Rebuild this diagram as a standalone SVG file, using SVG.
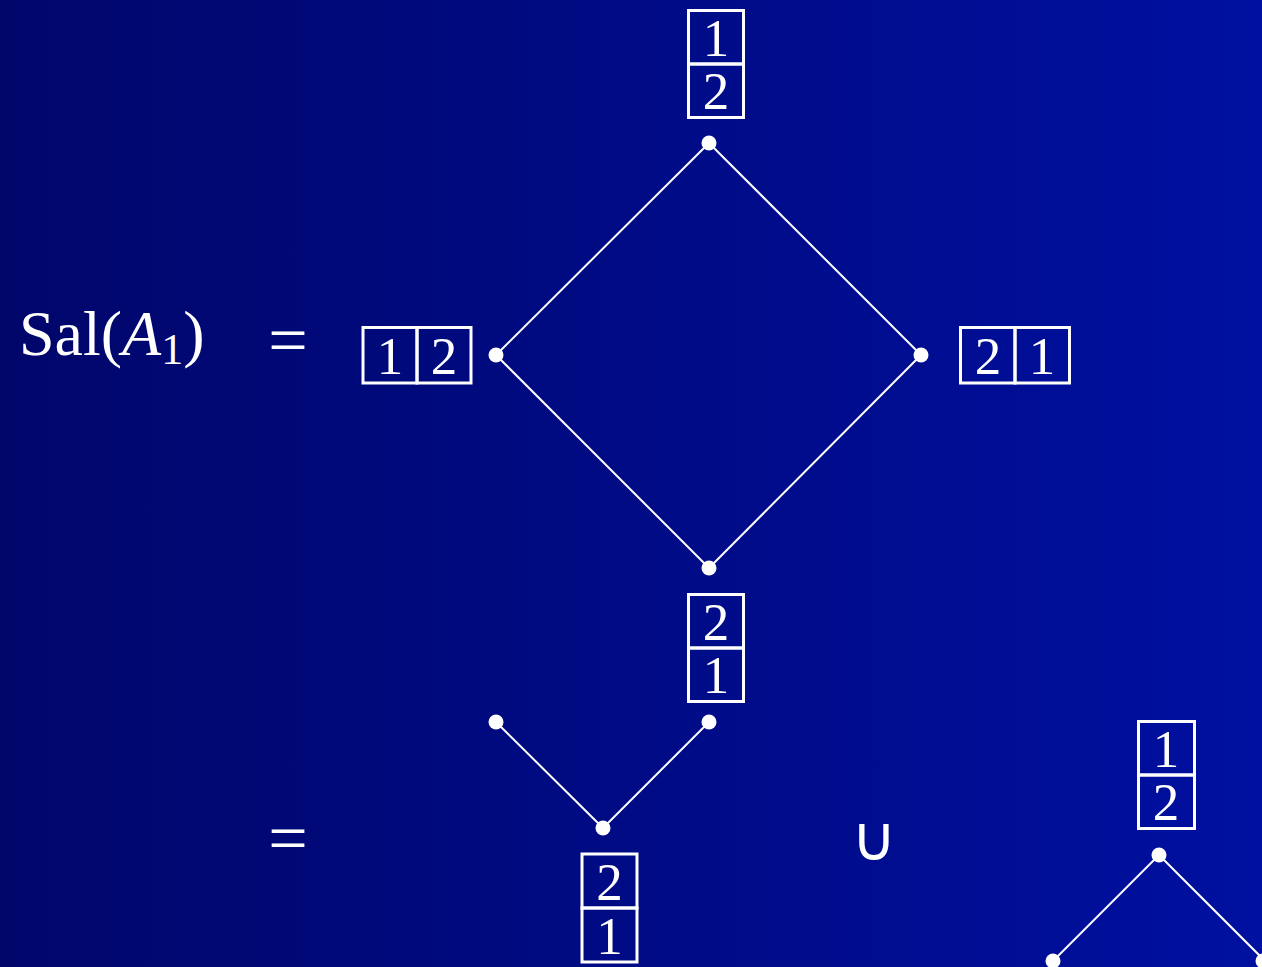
<svg xmlns="http://www.w3.org/2000/svg" width="1262" height="967" viewBox="0 0 1262 967">
<defs>
<linearGradient id="bg" x1="0" y1="0" x2="1" y2="0">
<stop offset="0" stop-color="#00066a"/>
<stop offset="1" stop-color="#0010a0"/>
</linearGradient>
<style>
.cell{fill:none;stroke:#fff;stroke-width:3}
.num{font-family:"Liberation Serif","DejaVu Serif",serif;font-size:53px;fill:#fff;text-anchor:middle}
.math{font-family:"Liberation Serif","DejaVu Serif",serif;fill:#fff}
.edge{stroke:#fff;stroke-width:2;fill:none}
.dot{fill:#fff}
</style>
</defs>
<rect width="1262" height="967" fill="url(#bg)"/>
<g id="lhs">
<text class="math" x="19" y="355" font-size="64">Sal(<tspan font-style="italic">A</tspan><tspan font-size="44" dy="9">1</tspan><tspan dy="-9">)</tspan></text>
</g>
<g id="eq1"><text class="math" x="288" y="364" font-size="70" text-anchor="middle">=</text></g>
<g id="eq2"><text class="math" x="288" y="862" font-size="70" text-anchor="middle">=</text></g>
<g id="union"><text x="874" y="860" font-family="DejaVu Sans,sans-serif" font-size="62" fill="#fff" text-anchor="middle">∪</text></g>
<g id="connectors">
<line class="edge" x1="709" y1="143" x2="496" y2="355"/>
<line class="edge" x1="709" y1="143" x2="921" y2="355"/>
<line class="edge" x1="496" y1="355" x2="709" y2="568"/>
<line class="edge" x1="921" y1="355" x2="709" y2="568"/>
<line class="edge" x1="496" y1="722" x2="603" y2="828"/>
<line class="edge" x1="709" y1="722" x2="603" y2="828"/>
<line class="edge" x1="1159" y1="855" x2="1053" y2="961"/>
<line class="edge" x1="1159" y1="855" x2="1265" y2="961"/>
</g>
<g id="n-top">
<circle class="dot" cx="709" cy="143" r="7.5"/>
<rect class="cell" x="688.5" y="10.5" width="55" height="53.5"/>
<rect class="cell" x="688.5" y="64" width="55" height="53.5"/>
<text class="num" x="716" y="56">1</text>
<text class="num" x="716" y="109">2</text>
</g>
<g id="n-left">
<circle class="dot" cx="496" cy="355" r="7.5"/>
<rect class="cell" x="363" y="327.5" width="54" height="55.5"/>
<rect class="cell" x="417" y="327.5" width="54" height="55.5"/>
<text class="num" x="390" y="374">1</text>
<text class="num" x="444" y="374">2</text>
</g>
<g id="n-right">
<circle class="dot" cx="921" cy="355" r="7.5"/>
<rect class="cell" x="960.5" y="327.5" width="54.5" height="55.5"/>
<rect class="cell" x="1015" y="327.5" width="54.5" height="55.5"/>
<text class="num" x="988" y="374">2</text>
<text class="num" x="1042" y="374">1</text>
</g>
<g id="n-bottom">
<circle class="dot" cx="709" cy="568" r="7.5"/>
<rect class="cell" x="688.5" y="594.5" width="55" height="53.5"/>
<rect class="cell" x="688.5" y="648" width="55" height="53.5"/>
<text class="num" x="716" y="640">2</text>
<text class="num" x="716" y="693">1</text>
</g>
<g id="n-b1">
<circle class="dot" cx="496" cy="722" r="7.5"/>
</g>
<g id="n-b2">
<circle class="dot" cx="709" cy="722" r="7.5"/>
</g>
<g id="n-b3">
<circle class="dot" cx="603" cy="828" r="7.5"/>
<rect class="cell" x="582" y="854" width="55" height="54"/>
<rect class="cell" x="582" y="908" width="55" height="54"/>
<text class="num" x="609.5" y="900">2</text>
<text class="num" x="609.5" y="954">1</text>
</g>
<g id="n-c1">
<circle class="dot" cx="1159" cy="855" r="7.5"/>
<rect class="cell" x="1138.5" y="721.5" width="56" height="53.5"/>
<rect class="cell" x="1138.5" y="775" width="56" height="53.5"/>
<text class="num" x="1166" y="767">1</text>
<text class="num" x="1166" y="820">2</text>
</g>
<g id="n-c2"><circle class="dot" cx="1053" cy="961" r="7.5"/></g>
<g id="n-c3"><circle class="dot" cx="1263" cy="961" r="7.5"/></g>
</svg>
